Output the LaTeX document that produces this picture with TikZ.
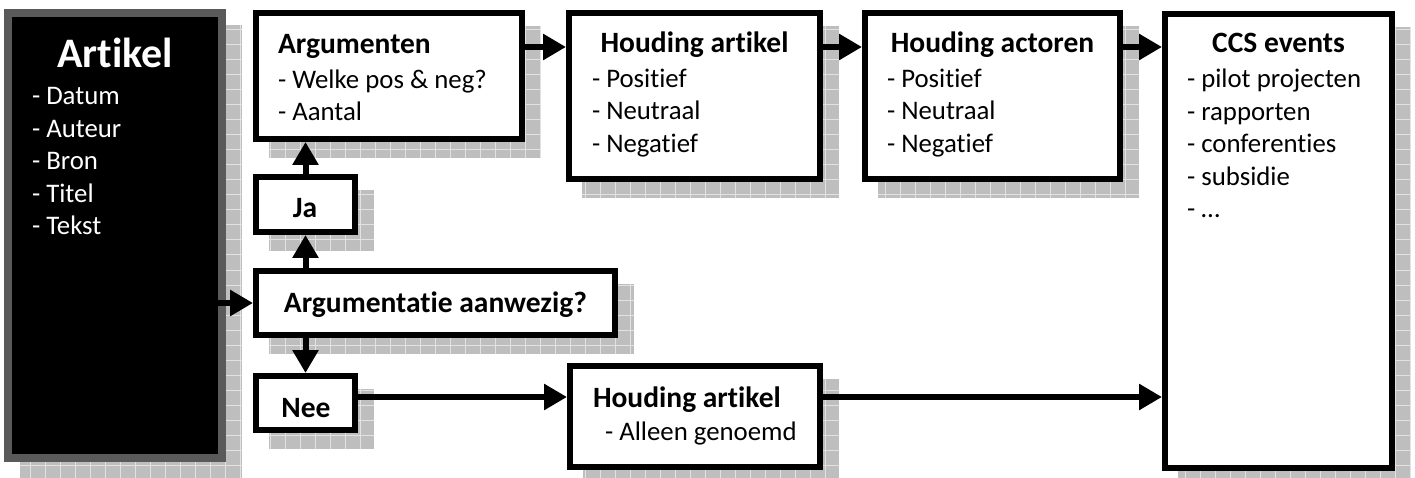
\documentclass[tikz,border=0pt]{standalone}
\usepackage{fontspec}
\setmainfont{Carlito}[Ligatures=NoCommon]
\usetikzlibrary{arrows.meta,backgrounds,calc}
\definecolor{shadowgray}{HTML}{BEBEBE}
\definecolor{shadowline}{HTML}{E2E2E2}
\definecolor{artborder}{HTML}{5A5A5A}
\newcommand\mybody{\fontsize{26.8}{32}\selectfont}
\newcommand\mytitle{\fontsize{29.5}{32}\selectfont\bfseries}
\newcommand\mybig{\fontsize{42}{48}\selectfont\bfseries}
\newcommand\myshadow[1]{%
  \begin{scope}
  \clip ([shift={(16,16)}]#1.north west) rectangle ([shift={(16,16)}]#1.south east);
  \fill[shadowgray] ([shift={(16,16)}]#1.north west) rectangle ([shift={(16,16)}]#1.south east);
  \draw[shadowline, line width=1pt, step=15pt] ([shift={(16,16)}]#1.north west) grid ([shift={(16,16)}]#1.south east);
  \end{scope}}
\tikzset{
  boxnode/.style={draw=black, fill=white, line width=6pt, inner sep=0pt, rectangle},
  artnode/.style={draw=artborder, fill=black, line width=8pt, inner sep=0pt, rectangle},
  txt/.style={inner sep=0pt, outer sep=0pt, font=\mybody},
  ttl/.style={inner sep=0pt, outer sep=0pt, font=\mytitle},
  conn/.style={line width=6pt, -{Triangle[length=23pt,width=25pt]}}
}
\begin{document}
\begin{tikzpicture}[x=1pt,y=-1pt]
\useasboundingbox (0,0) rectangle (1415,478);

% boxes
\node[artnode, minimum width=214pt, minimum height=445pt] (art) at (115,235.5) {};
\node[boxnode, minimum width=266pt, minimum height=126pt] (arg) at (389,76) {};
\node[boxnode, minimum width=99pt, minimum height=55pt] (ja) at (305.5,204.5) {};
\node[boxnode, minimum width=359pt, minimum height=64pt] (aa) at (435.5,303) {};
\node[boxnode, minimum width=99pt, minimum height=54pt] (nee) at (305.5,403) {};
\node[boxnode, minimum width=251pt, minimum height=166pt] (ha1) at (694.5,96) {};
\node[boxnode, minimum width=255pt, minimum height=166pt] (hac) at (992.5,96) {};
\node[boxnode, minimum width=227pt, minimum height=454pt] (ccs) at (1278.5,241) {};
\node[boxnode, minimum width=250pt, minimum height=101pt] (ha2) at (695,416.5) {};

% shadows
\begin{pgfonlayer}{background}
  \fill[white] (0,0) rectangle (1415,478);
  \myshadow{art}
  \myshadow{arg}
  \myshadow{ja}
  \myshadow{aa}
  \myshadow{nee}
  \myshadow{ha1}
  \myshadow{hac}
  \myshadow{ccs}
  \myshadow{ha2}
\end{pgfonlayer}

% connectors
\coordinate (topy) at (0,47);
\coordinate (boty) at (0,397);
\draw[conn] ($(art.east |- aa.west)+(-8,0)$) -- (aa.west);
\draw[conn] (aa.north -| ja.south) -- (ja.south);
\draw[conn] (ja.north) -- (arg.south -| ja.north);
\draw[conn] (aa.south -| nee.north) -- (nee.north);
\draw[conn] (arg.east |- topy) -- (ha1.west |- topy);
\draw[conn] (ha1.east |- topy) -- (hac.west |- topy);
\draw[conn] (hac.east |- topy) -- (ccs.west |- topy);
\draw[conn] (nee.east |- boty) -- (ha2.west |- boty);
\draw[conn] (ha2.east |- boty) -- (ccs.west |- boty);

% Artikel texts
\node[inner sep=0pt, font=\mybig, text=white, anchor=base] (artT) at (115,68) {Artikel};
\node[txt, text=white, anchor=base west] (art1) at (32,105) {- Datum};
\node[txt, text=white, anchor=base west] (art2) at (32,137.5) {- Auteur};
\node[txt, text=white, anchor=base west] (art3) at (32,170) {- Bron};
\node[txt, text=white, anchor=base west] (art4) at (32,202.5) {- Titel};
\node[txt, text=white, anchor=base west] (art5) at (32,235) {- Tekst};

% Argumenten
\node[ttl, anchor=base west] (argT) at (278,54) {Argumenten};
\node[txt, anchor=base west] (arg1) at (278,89) {- Welke pos \& neg?};
\node[txt, anchor=base west] (arg2) at (278,121) {- Aantal};

% Ja / Nee / Argumentatie
\node[ttl, anchor=base] (jaT) at (305,218) {Ja};
\node[ttl, anchor=base] (aaT) at (435.5,312) {Argumentatie aanwezig?};
\node[ttl, anchor=base] (neeT) at (306,417) {Nee};

% Houding artikel (top)
\node[ttl, anchor=base] (ha1T) at (694.5,53) {Houding artikel};
\node[txt, anchor=base west] (ha11) at (592,87.5) {- Positief};
\node[txt, anchor=base west] (ha12) at (592,120) {- Neutraal};
\node[txt, anchor=base west] (ha13) at (592,152.5) {- Negatief};

% Houding actoren
\node[ttl, anchor=base] (hacT) at (992.5,53) {Houding actoren};
\node[txt, anchor=base west] (hac1) at (887,87.5) {- Positief};
\node[txt, anchor=base west] (hac2) at (887,120) {- Neutraal};
\node[txt, anchor=base west] (hac3) at (887,152.5) {- Negatief};

% CCS events
\node[ttl, anchor=base] (ccsT) at (1278.5,53) {CCS events};
\node[txt, anchor=base west] (ccs1) at (1187,88) {- pilot projecten};
\node[txt, anchor=base west] (ccs2) at (1187,120.5) {- rapporten};
\node[txt, anchor=base west] (ccs3) at (1187,153) {- conferenties};
\node[txt, anchor=base west] (ccs4) at (1187,185.5) {- subsidie};
\node[txt, anchor=base west] (ccs5) at (1187,218) {- …};

% Houding artikel (bottom)
\node[ttl, anchor=base west] (ha2T) at (593,407) {Houding artikel};
\node[txt, anchor=base west] (ha21) at (605,440) {- Alleen genoemd};
\end{tikzpicture}
\end{document}
